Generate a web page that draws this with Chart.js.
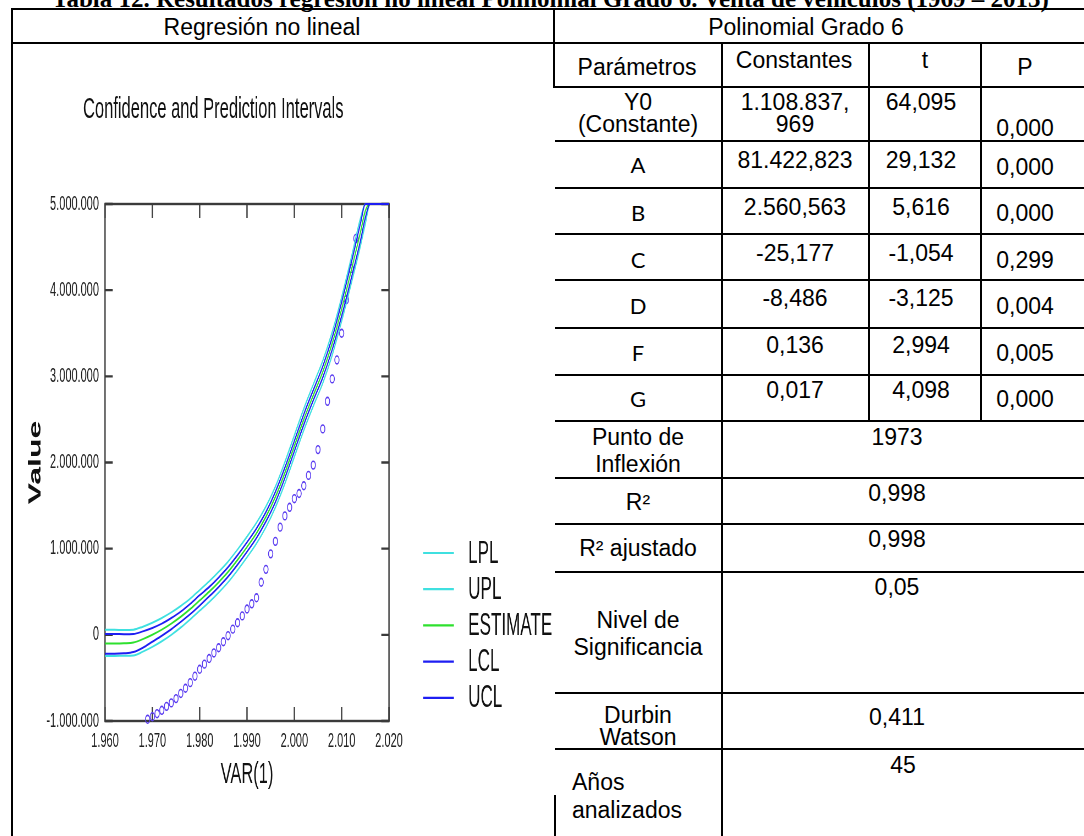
<!DOCTYPE html>
<html>
<head>
<meta charset="utf-8">
<script src="https://cdn.jsdelivr.net/npm/chart.js@4.4.1/dist/chart.umd.min.js"></script>
<style>
html,body{margin:0;padding:0;background:#fff;width:1084px;height:836px;overflow:hidden;position:relative;font-family:"Liberation Sans",Arial,sans-serif;color:#000}
.h{position:absolute;background:#000;height:2px}
.v{position:absolute;background:#000;width:2px}
.t{position:absolute;font-size:23px;line-height:1;white-space:nowrap;transform:translate(-50%,-50%)}
.l{position:absolute;font-size:23px;line-height:1;white-space:nowrap;transform:translateY(-50%)}
.c{font-family:Lato,"Open Sans",sans-serif;font-size:22px}
#cap{position:absolute;left:52px;top:-15px;font:bold 25px/28px "Liberation Serif","Times New Roman",serif;white-space:nowrap}
#wrap{position:absolute;left:13px;top:46px;width:982px;height:790px;transform:scaleX(0.55);transform-origin:0 0}
</style>
</head>
<body>
<div id="cap">Tabla 12. Resultados regresión no lineal Polinomial Grado 6. Venta de vehículos (1969 – 2013)</div>

<!-- table lines -->
<div class="h" style="left:11px;top:8px;width:1073px"></div>
<div class="h" style="left:11px;top:42px;width:1073px"></div>
<div class="v" style="left:11px;top:8px;height:828px"></div>
<div class="v" style="left:553px;top:8px;height:80px"></div>
<div class="h" style="left:553px;top:86px;width:531px"></div>
<div class="h" style="left:555px;top:140px;width:529px"></div>
<div class="h" style="left:555px;top:187px;width:529px"></div>
<div class="h" style="left:555px;top:233px;width:529px"></div>
<div class="h" style="left:555px;top:279px;width:529px"></div>
<div class="h" style="left:555px;top:327px;width:529px"></div>
<div class="h" style="left:555px;top:374px;width:529px"></div>
<div class="h" style="left:555px;top:420px;width:529px"></div>
<div class="h" style="left:555px;top:477px;width:529px"></div>
<div class="h" style="left:555px;top:523px;width:529px"></div>
<div class="h" style="left:555px;top:571px;width:529px"></div>
<div class="h" style="left:555px;top:692px;width:529px"></div>
<div class="h" style="left:555px;top:748px;width:529px"></div>
<div class="v" style="left:721px;top:42px;height:794px"></div>
<div class="v" style="left:868px;top:42px;height:380px"></div>
<div class="v" style="left:980px;top:42px;height:380px"></div>
<div class="v" style="left:554px;top:795px;height:41px"></div>

<!-- table text -->
<div class="t" style="left:262px;top:27px">Regresión no lineal</div>
<div class="t" style="left:806px;top:27px">Polinomial Grado 6</div>
<div class="t" style="left:637px;top:67px">Parámetros</div>
<div class="t" style="left:794px;top:60px">Constantes</div>
<div class="t" style="left:925px;top:60px">t</div>
<div class="t" style="left:1025px;top:67px">P</div>

<div class="t" style="left:638px;top:102px">Y0</div>
<div class="t" style="left:638px;top:124px">(Constante)</div>
<div class="t" style="left:795px;top:102px">1.108.837,</div>
<div class="t" style="left:795px;top:124px">969</div>
<div class="t" style="left:921px;top:102px">64,095</div>
<div class="t" style="left:1025px;top:128px">0,000</div>

<div class="t c" style="left:638px;top:165px">A</div>
<div class="t" style="left:795px;top:160px">81.422,823</div>
<div class="t" style="left:921px;top:160px">29,132</div>
<div class="t" style="left:1025px;top:167px">0,000</div>

<div class="t c" style="left:638px;top:213px">B</div>
<div class="t" style="left:795px;top:207px">2.560,563</div>
<div class="t" style="left:921px;top:207px">5,616</div>
<div class="t" style="left:1025px;top:213px">0,000</div>

<div class="t c" style="left:638px;top:260px">C</div>
<div class="t" style="left:795px;top:253px">-25,177</div>
<div class="t" style="left:921px;top:253px">-1,054</div>
<div class="t" style="left:1025px;top:260px">0,299</div>

<div class="t c" style="left:638px;top:306px">D</div>
<div class="t" style="left:795px;top:298px">-8,486</div>
<div class="t" style="left:921px;top:298px">-3,125</div>
<div class="t" style="left:1025px;top:306px">0,004</div>

<div class="t c" style="left:638px;top:353px">F</div>
<div class="t" style="left:795px;top:345px">0,136</div>
<div class="t" style="left:921px;top:345px">2,994</div>
<div class="t" style="left:1025px;top:353px">0,005</div>

<div class="t c" style="left:638px;top:399px">G</div>
<div class="t" style="left:795px;top:390px">0,017</div>
<div class="t" style="left:921px;top:390px">4,098</div>
<div class="t" style="left:1025px;top:399px">0,000</div>

<div class="t" style="left:638px;top:437px">Punto de</div>
<div class="t" style="left:638px;top:464px">Inflexión</div>
<div class="t" style="left:897px;top:437px">1973</div>

<div class="t" style="left:638px;top:502px">R²</div>
<div class="t" style="left:897px;top:493px">0,998</div>

<div class="t" style="left:638px;top:548px">R² ajustado</div>
<div class="t" style="left:897px;top:539px">0,998</div>

<div class="t" style="left:638px;top:620px">Nivel de</div>
<div class="t" style="left:638px;top:647px">Significancia</div>
<div class="t" style="left:897px;top:587px">0,05</div>

<div class="t" style="left:638px;top:715px">Durbin</div>
<div class="t" style="left:638px;top:737px">Watson</div>
<div class="t" style="left:897px;top:717px">0,411</div>

<div class="l" style="left:572px;top:782px">Años</div>
<div class="l" style="left:572px;top:810px">analizados</div>
<div class="t" style="left:903px;top:765px">45</div>

<div id="wrap"><canvas id="chart" width="982" height="790"></canvas></div>

<script>
// ---------------- data ----------------
const fitYears = [1960,1962,1964,1966,1968,1970,1972,1974,1976,1978,1980,1982,1984,1986,1988,1990,1992,1994,1996,1998,2000,2002,2004,2006,2008,2010,2012,2014,2015,2016,2018,2020];
const lplValues = [-245000,-245000,-243000,-240000,-195000,-140000,-75000,0,85000,180000,280000,380000,490000,610000,750000,900000,1060000,1250000,1480000,1755000,2065000,2375000,2655000,2920000,3245000,3640000,4070000,4520000,4770000,5000000,5000000,5000000];
const uplValues = [58000,58000,57000,60000,95000,140000,195000,260000,335000,420000,520000,620000,730000,850000,990000,1140000,1300000,1490000,1720000,2005000,2315000,2625000,2905000,3180000,3515000,3920000,4370000,4840000,5000000,5000000,5000000,5000000];
const estimateValues = [-100000,-100000,-98000,-90000,-50000,0,60000,130000,210000,300000,400000,500000,610000,730000,870000,1020000,1180000,1370000,1600000,1880000,2190000,2500000,2780000,3050000,3380000,3780000,4220000,4680000,4920000,5000000,5000000,5000000];
const lclValues = [-220000,-220000,-215000,-200000,-150000,-80000,-10000,65000,150000,240000,340000,445000,555000,675000,815000,965000,1125000,1315000,1540000,1820000,2130000,2440000,2720000,2985000,3310000,3700000,4130000,4580000,4840000,5000000,5000000,5000000];
const uclValues = [10000,10000,7000,10000,40000,80000,130000,195000,270000,360000,460000,555000,665000,785000,925000,1075000,1235000,1425000,1660000,1940000,2250000,2560000,2840000,3115000,3450000,3860000,4310000,4780000,5000000,5000000,5000000,5000000];

const obsYears = [1969,1970,1971,1972,1973,1974,1975,1976,1977,1978,1979,1980,1981,1982,1983,1984,1985,1986,1987,1988,1989,1990,1991,1992,1993,1994,1995,1996,1997,1998,1999,2000,2001,2002,2003,2004,2005,2006,2007,2008,2009,2010,2011,2012,2013];
const obsValues = [-980000,-950000,-915000,-876000,-830000,-790000,-740000,-680000,-620000,-555000,-480000,-400000,-340000,-275000,-210000,-150000,-80000,-10000,66000,140000,220000,300000,360000,430000,610000,760000,940000,1085000,1250000,1380000,1480000,1580000,1640000,1730000,1850000,1970000,2150000,2390000,2710000,2970000,3190000,3500000,3890000,4250000,4600000];

const xTickValues = [1960,1970,1980,1990,2000,2010,2020];
const yTickValues = [-1000000,0,1000000,2000000,3000000,4000000,5000000];

const seriesLabels = ['LPL','UPL','ESTIMATE','LCL','UCL'];
const chartTitle = 'Confidence and Prediction Intervals';
const xTitle = 'VAR(1)';
const yTitle = 'Value';

// ---------------- helpers ----------------
function fmt(v){
  const s = Math.abs(Math.round(v)).toString().replace(/\B(?=(\d{3})+(?!\d))/g,'.');
  return (v < 0 ? '-' : '') + s;
}
function pts(xs, ys){ return xs.map((x,i)=>({x:x, y:ys[i]})); }

const FONT = '"Liberation Sans", Arial, sans-serif';
const CYAN = '#3fe0e0', GREEN = '#2ee02e', BLUE = '#1e1ef2', DOTS = '#5a3cf0';

const seriesValues = [lplValues, uplValues, estimateValues, lclValues, uclValues];
const seriesColors = [CYAN, CYAN, GREEN, BLUE, BLUE];
const seriesOrder = [5, 4, 3, 2, 1];

const datasets = seriesLabels.map((lab, i) => ({
  label: lab,
  data: pts(fitYears, seriesValues[i]),
  borderColor: seriesColors[i],
  backgroundColor: seriesColors[i],
  borderWidth: 2,
  pointRadius: 0,
  fill: false,
  cubicInterpolationMode: 'monotone',
  clip: false,
  order: seriesOrder[i]
}));
datasets.push({
  label: 'Observed',
  data: pts(obsYears, obsValues),
  showLine: false,
  borderColor: DOTS,
  backgroundColor: 'rgba(0,0,0,0)',
  pointBorderColor: DOTS,
  pointBackgroundColor: 'rgba(0,0,0,0)',
  pointRadius: 3.9,
  pointBorderWidth: 1.6,
  pointStyle: 'circle',
  clip: false,
  order: 6
});

// frame, inner ticks, title and legend
const decorPlugin = {
  id: 'decor',
  beforeDatasetsDraw(chart){
    const {ctx, chartArea: a, scales} = chart;
    ctx.save();
    ctx.strokeStyle = '#3a3a3a';
    ctx.lineWidth = 2.4;
    ctx.strokeRect(a.left, a.top, a.right - a.left, a.bottom - a.top);
    ctx.beginPath();
    scales.x.ticks.forEach(t => {
      const px = scales.x.getPixelForValue(t.value);
      ctx.moveTo(px, a.bottom); ctx.lineTo(px, a.bottom - 14);
      ctx.moveTo(px, a.top); ctx.lineTo(px, a.top + 14);
    });
    scales.y.ticks.forEach(t => {
      const py = scales.y.getPixelForValue(t.value);
      ctx.moveTo(a.left, py); ctx.lineTo(a.left + 14, py);
      ctx.moveTo(a.right, py); ctx.lineTo(a.right - 14, py);
    });
    ctx.stroke();
    ctx.restore();
  },
  afterDraw(chart){
    const {ctx, chartArea: a} = chart;
    ctx.save();
    ctx.fillStyle = '#111';
    ctx.font = '30px ' + FONT;
    ctx.textAlign = 'left';
    ctx.textBaseline = 'alphabetic';
    ctx.fillText(chartTitle, a.left - 40, a.top - 86);
    // legend
    ctx.font = '31px ' + FONT;
    ctx.textBaseline = 'middle';
    seriesLabels.forEach((lab, i) => {
      const ds = chart.data.datasets.find(d => d.label === lab);
      const y = a.bottom - 168 + i * 36.2;
      ctx.strokeStyle = ds.borderColor;
      ctx.lineWidth = 2.2;
      ctx.beginPath();
      ctx.moveTo(a.right + 62, y);
      ctx.lineTo(a.right + 118, y);
      ctx.stroke();
      ctx.fillStyle = '#111';
      ctx.fillText(lab, a.right + 144, y + 1);
    });
    ctx.restore();
  }
};

new Chart(document.getElementById('chart'), {
  type: 'line',
  data: { datasets },
  plugins: [decorPlugin],
  options: {
    responsive: false,
    animation: false,
    devicePixelRatio: 1,
    layout: { padding: { top: 158, left: 0, right: 298.4, bottom: 0 } },
    plugins: { legend: { display: false }, tooltip: { enabled: false }, title: { display: false } },
    scales: {
      x: {
        type: 'linear',
        min: 1960, max: 2020,
        afterBuildTicks: s => { s.ticks = xTickValues.map(v => ({ value: v })); },
        afterFit: s => { s.height = 115; },
        grid: { display: false, drawTicks: false },
        border: { display: false },
        ticks: { padding: 8, color: '#222', font: { family: FONT, size: 20 }, callback: v => fmt(v), maxRotation: 0, autoSkip: false },
        title: { display: true, text: xTitle, color: '#111', font: { family: FONT, size: 30 }, padding: { top: 0, bottom: 43 } }
      },
      y: {
        type: 'linear',
        min: -1000000, max: 5000000,
        afterBuildTicks: s => { s.ticks = yTickValues.map(v => ({ value: v })); },
        afterFit: s => { s.width = 167.3; },
        grid: { display: false, drawTicks: false },
        border: { display: false },
        ticks: { padding: 11, color: '#222', font: { family: FONT, size: 20 }, callback: v => fmt(v), autoSkip: false },
        title: { display: true, text: yTitle, color: '#111', font: { family: FONT, size: 32, weight: 'bold' }, padding: { top: 21.7, bottom: 0 } }
      }
    }
  }
});
</script>
</body>
</html>
